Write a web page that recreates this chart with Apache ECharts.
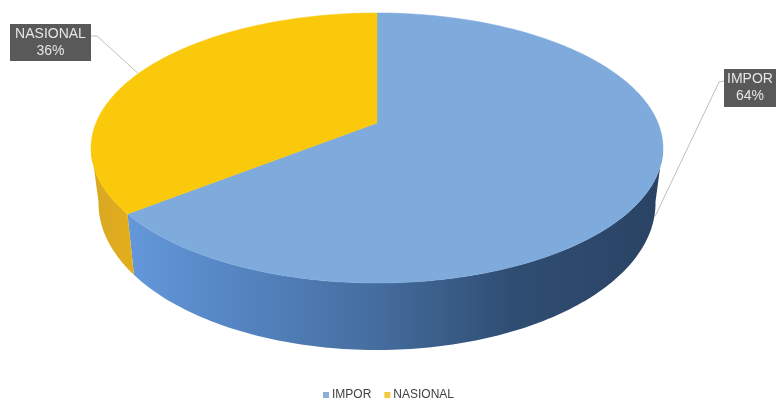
<!DOCTYPE html>
<html>
<head>
<meta charset="utf-8">
<style>html,body{margin:0;padding:0;background:#fff}#c{width:777px;height:401px}</style>
<script src="https://cdn.jsdelivr.net/npm/echarts@6/dist/echarts.min.js"></script>
</head>
<body>
<div id="c"></div>
<script>
const categories = ['IMPOR', 'NASIONAL'];
const shares = [64, 36];
const topColors = ['#7eaadc', '#fac90c'];
const legendColors = ['#8dacd8', '#f2cb3e'];

const FONT = '"Liberation Sans", Arial, sans-serif';
const CX = 377, CY = 123, A = 281, B = 130.4, K = 0.185, WARP = 1.5;
const total = shares.reduce((a, b) => a + b, 0);

function rim(deg) {
  const w = deg + WARP * Math.sin(2 * deg * Math.PI / 180);
  const t = w * Math.PI / 180, X = Math.sin(t), Y = -Math.cos(t), d = 1 - K * Y;
  return [CX + A * X / d, CY + B * Y / d];
}
function rimLow(deg) {
  const p = rim(deg), rel = p[1] - CY;
  return [CX + (p[0] - CX) * 0.974, p[1] + 53 + 0.0875 * rel];
}
function range(a, b) {
  const out = [], n = Math.max(2, Math.ceil(Math.abs(b - a)));
  for (let i = 0; i <= n; i++) out.push(a + (b - a) * i / n);
  return out;
}
const sideFills = [
  new echarts.graphic.LinearGradient(0, 0, 1, 0, [
    {offset: 0, color: '#6498da'}, {offset: 0.2, color: '#5585c2'},
    {offset: 0.45, color: '#466fa1'}, {offset: 0.72, color: '#2f4d72'},
    {offset: 1, color: '#2a4364'}]),
  new echarts.graphic.LinearGradient(0, 0, 1, 0, [
    {offset: 0, color: '#d9a823'}, {offset: 1, color: '#e2ae1c'}])
];
const labelBoxes = [
  {x: 724, y: 69, w: 52, h: 38, elbow: [719, 82], from: [724, 81], depth: 0.62, nudge: 5},
  {x: 10, y: 24, w: 81, h: 37, elbow: [97, 36], from: [91, 36], depth: 0, nudge: 0}
];

function renderSlice(params, api) {
  const i = params.seriesIndex;
  const start = shares.slice(0, i).reduce((a, b) => a + b, 0) / total * 360;
  const end = start + api.value(0) / total * 360;
  const limit = Math.acos(-K) * 180 / Math.PI;
  const children = [];

  const box = labelBoxes[i], mid = (start + end) / 2;
  const p = rim(mid), q = rimLow(mid);
  const tip = [p[0] + (q[0] - p[0]) * box.depth + box.nudge, p[1] + (q[1] - p[1]) * box.depth];
  children.push({type: 'polyline', z2: 0,
    shape: {points: [box.from, box.elbow, tip]},
    style: {fill: null, stroke: '#bfbfbf', lineWidth: 1}});

  const sa = Math.max(start, limit), sb = Math.min(end, 360 - limit);
  if (sb > sa) {
    const r = range(sa, sb);
    children.push({type: 'polygon', z2: 1,
      shape: {points: r.map(rim).concat(r.slice().reverse().map(rimLow))},
      style: {fill: sideFills[i], stroke: null}});
  }
  children.push({type: 'polygon', z2: 2,
    shape: {points: [[CX, CY]].concat(range(start, end).map(rim))},
    style: {fill: topColors[i], stroke: topColors[i], lineWidth: 0.5}});

  children.push({type: 'rect', z2: 4,
    shape: {x: box.x, y: box.y, width: box.w, height: box.h},
    style: {fill: '#595959', stroke: null}});
  children.push({type: 'text', z2: 5,
    x: box.x + box.w / 2, y: box.y + box.h / 2,
    style: {text: categories[i] + '\n' + api.value(0) + '%', fill: '#e6e6e6',
      font: '14px ' + FONT, lineHeight: 17, align: 'center', verticalAlign: 'middle'}});
  return {type: 'group', children};
}

const chart = echarts.init(document.getElementById('c'), null, {renderer: 'canvas'});
chart.setOption({
  animation: false,
  backgroundColor: '#ffffff',
  legend: {
    data: categories.map(n => ({name: n, icon: 'rect'})),
    left: 318, top: 384, itemWidth: 6, itemHeight: 6, itemGap: 13,
    textStyle: {fontFamily: FONT, fontSize: 12, color: '#404040', padding: [0, 0, 0, -2]}
  },
  series: categories.map((name, i) => ({
    type: 'custom',
    name,
    coordinateSystem: 'none',
    silent: true,
    itemStyle: {color: legendColors[i]},
    renderItem: renderSlice,
    data: [[shares[i]]]
  }))
});
</script>
</body>
</html>
